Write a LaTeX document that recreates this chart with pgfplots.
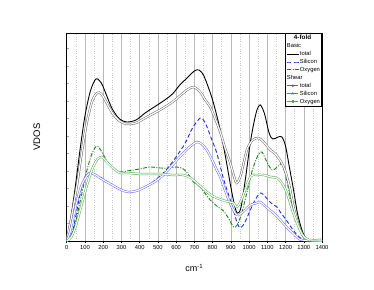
\documentclass[border=0pt]{standalone}
\usepackage{fontspec}
\setmainfont{Liberation Sans}
\usepackage{pgfplots}
\pgfplotsset{compat=1.18}
\definecolor{bblue}{RGB}{30,40,240}
\definecolor{bgreen}{RGB}{20,130,20}
\definecolor{sgray}{RGB}{100,100,100}
\definecolor{sblue}{RGB}{100,100,255}
\definecolor{sgreen}{RGB}{80,170,80}
\begin{document}
\begin{tikzpicture}
\begin{axis}[
  at={(66.7pt,48pt)}, anchor=south west,
  scale only axis, width=255.3pt, height=208pt,
  xmin=0, xmax=1400, ymin=0, ymax=208,
  xtick={0,100,...,1400},
  minor xtick={50,150,...,1350},
  ytick={17.5,35,...,200}, yticklabels={},
  xtick pos=left, ytick pos=left,
  xtick align=outside, ytick align=inside,
  major tick length=2pt, minor tick length=1.2pt,
  y tick style={black!35, line width=0.4pt},
  x tick style={black, line width=0.5pt},
  xmajorgrids, xminorgrids,
  major grid style={draw=black!28, line width=0.5pt},
  minor grid style={draw=black!22, dotted, line width=0.5pt},
  axis line style={line width=0.7pt},
  /pgf/number format/assume math mode=true,
  /pgf/number format/set thousands separator={},
  tick label style={font=\fontsize{5.8}{6}\selectfont},
  xticklabel style={yshift=1pt},
  xlabel={cm\textsuperscript{-1}},
  xlabel style={at={(axis description cs:0.5,-0.13)}, anchor=center, font=\fontsize{9}{10}\selectfont},
  ylabel={VDOS},
  ylabel style={at={(axis description cs:-0.117,0.5)}, anchor=center, font=\fontsize{9.5}{10}\selectfont},
  legend style={at={(1,1)}, anchor=north east, draw=black, line width=0.7pt,
    font=\fontsize{5.8}{6}\selectfont, row sep=0pt, inner sep=1pt,
    column sep=0.6pt,
    nodes={inner sep=0.7pt, text height=4.9pt, text depth=1.6pt},
    cells={anchor=west}},
  legend cell align=left,
  legend image code/.code={\draw[mark repeat=2,mark phase=2,#1] plot coordinates {(0pt,0pt) (5.5pt,0pt) (11pt,0pt)};},
]
\addlegendimage{empty legend}
\addlegendentry{\hspace*{-6pt}\fontsize{6.3}{6.5}\selectfont\textbf{4-fold}}
\addlegendimage{empty legend}
\addlegendentry{\hspace*{-13pt}Basic}

% Basic total
\addplot[black, line width=0.9pt, smooth] coordinates {
(0,2)(20,20)(47,54)(73,91)(100,125)(130,150)(160,162)(190,158)(220,145)(250,132)(290,122)(330,119)(380,121)(430,128)(480,134)(530,140)(580,147)(620,156)(660,163)(700,170)(725,171)(750,166)(780,152)(800,141)(825,124)(850,104)(875,80)(900,54)(920,36)(935,28)(955,33)(980,62)(1010,102)(1040,129)(1062,136)(1085,127)(1110,108)(1130,102)(1160,104)(1180,104)(1200,95)(1220,75)(1244,51)(1265,28)(1290,11)(1310,3)(1330,1)(1400,1)
};
\addlegendentry{total}

% Basic silicon
\addplot[bblue, line width=0.9pt, dash pattern=on 4pt off 2.5pt, smooth] coordinates {
(0,0)(30,8)(50,25)(75,48)(100,64)(120,68)(150,67)(200,62)(250,56)(300,51)(350,49)(400,51)(450,56)(500,63)(550,72)(600,84)(650,98)(690,113)(733,123)(760,118)(790,104)(823,88)(860,62)(890,45)(914,31)(935,18)(952,13)(975,18)(1000,28)(1030,40)(1062,48)(1090,44)(1120,38)(1153,34)(1171,29)(1200,22)(1230,14)(1263,6)(1290,2)(1310,1)(1400,0)
};
\addlegendentry{Silicon}

% Basic oxygen
\addplot[bgreen, line width=0.9pt, dash pattern=on 4pt off 1.5pt on 1pt off 1.5pt, smooth] coordinates {
(0,0)(25,6)(50,20)(80,45)(110,70)(140,88)(166,95)(190,90)(220,80)(260,72)(293,69)(330,70)(400,72)(457,74)(512,73)(560,73)(604,74)(640,72)(670,66)(695,59)(732,54)(787,41)(830,34)(860,30)(890,22)(915,14)(935,16)(960,28)(990,50)(1020,72)(1050,86)(1071,89)(1095,80)(1126,71)(1155,74)(1181,77)(1205,62)(1226,44)(1255,25)(1281,13)(1300,5)(1320,1)(1400,0)
};
\addlegendentry{Oxygen}

\addlegendimage{empty legend}
\addlegendentry{\hspace*{-13pt}Shear}

% Shear total
\addplot[sgray, line width=0.5pt, double=white, double distance=1.2pt, smooth, forget plot] coordinates {
(0,2)(20,18)(55,54)(80,85)(110,118)(140,140)(167,148)(190,147)(220,138)(250,128)(290,120)(330,117)(380,118)(430,123)(480,128)(530,133)(580,139)(620,145)(660,151)(695,154)(732,149)(760,141)(787,134)(815,122)(842,109)(870,92)(897,78)(920,63)(933,58)(955,66)(988,91)(1020,101)(1051,103)(1080,99)(1117,91)(1150,86)(1190,74)(1220,56)(1244,34)(1265,20)(1281,11)(1300,4)(1320,1)(1400,1)
};
\addlegendimage{sgray, line width=0.5pt, mark=o, mark size=1.1pt, mark options={solid, line width=0.4pt, fill=white}}
\addlegendentry{total}

% Shear silicon
\addplot[sblue, line width=0.5pt, double=white, double distance=1.2pt, smooth, forget plot] coordinates {
(0,0)(20,10)(50,35)(80,55)(110,65)(130,68)(160,66)(183,63)(249,56)(300,51)(338,49)(380,50)(430,54)(480,59)(530,66)(580,76)(640,88)(680,95)(714,99)(740,97)(769,91)(800,80)(823,71)(842,64)(870,50)(900,36)(933,26)(960,28)(1007,36)(1043,38)(1062,39)(1100,33)(1140,27)(1171,21)(1210,13)(1240,8)(1263,4)(1290,1)(1400,0)
};
\addlegendimage{sblue, line width=0.9pt, mark=triangle, mark size=1.1pt, mark options={solid, line width=0.4pt, fill=white}}
\addlegendentry{Silicon}

% Shear oxygen
\addplot[sgreen, line width=0.5pt, double=white, double distance=1.2pt, smooth, forget plot] coordinates {
(0,0)(25,4)(50,15)(80,35)(110,55)(140,72)(170,82)(194,84)(220,79)(260,72)(293,68)(337,68)(400,67)(457,67)(520,67)(580,66)(640,66)(680,63)(714,58)(750,52)(769,49)(800,45)(823,43)(870,40)(914,38)(933,34)(960,42)(1007,64)(1043,66)(1080,66)(1120,64)(1153,63)(1180,58)(1208,48)(1235,32)(1263,18)(1290,7)(1309,3)(1330,1)(1400,1)
};
\addlegendimage{sgreen, line width=0.5pt, mark=square, mark size=0.9pt, mark options={solid, line width=0.4pt, fill=white}}
\addlegendentry{Oxygen}
\end{axis}
\path[use as bounding box] (0,0) rectangle (374pt,289pt);
\end{tikzpicture}
\end{document}
